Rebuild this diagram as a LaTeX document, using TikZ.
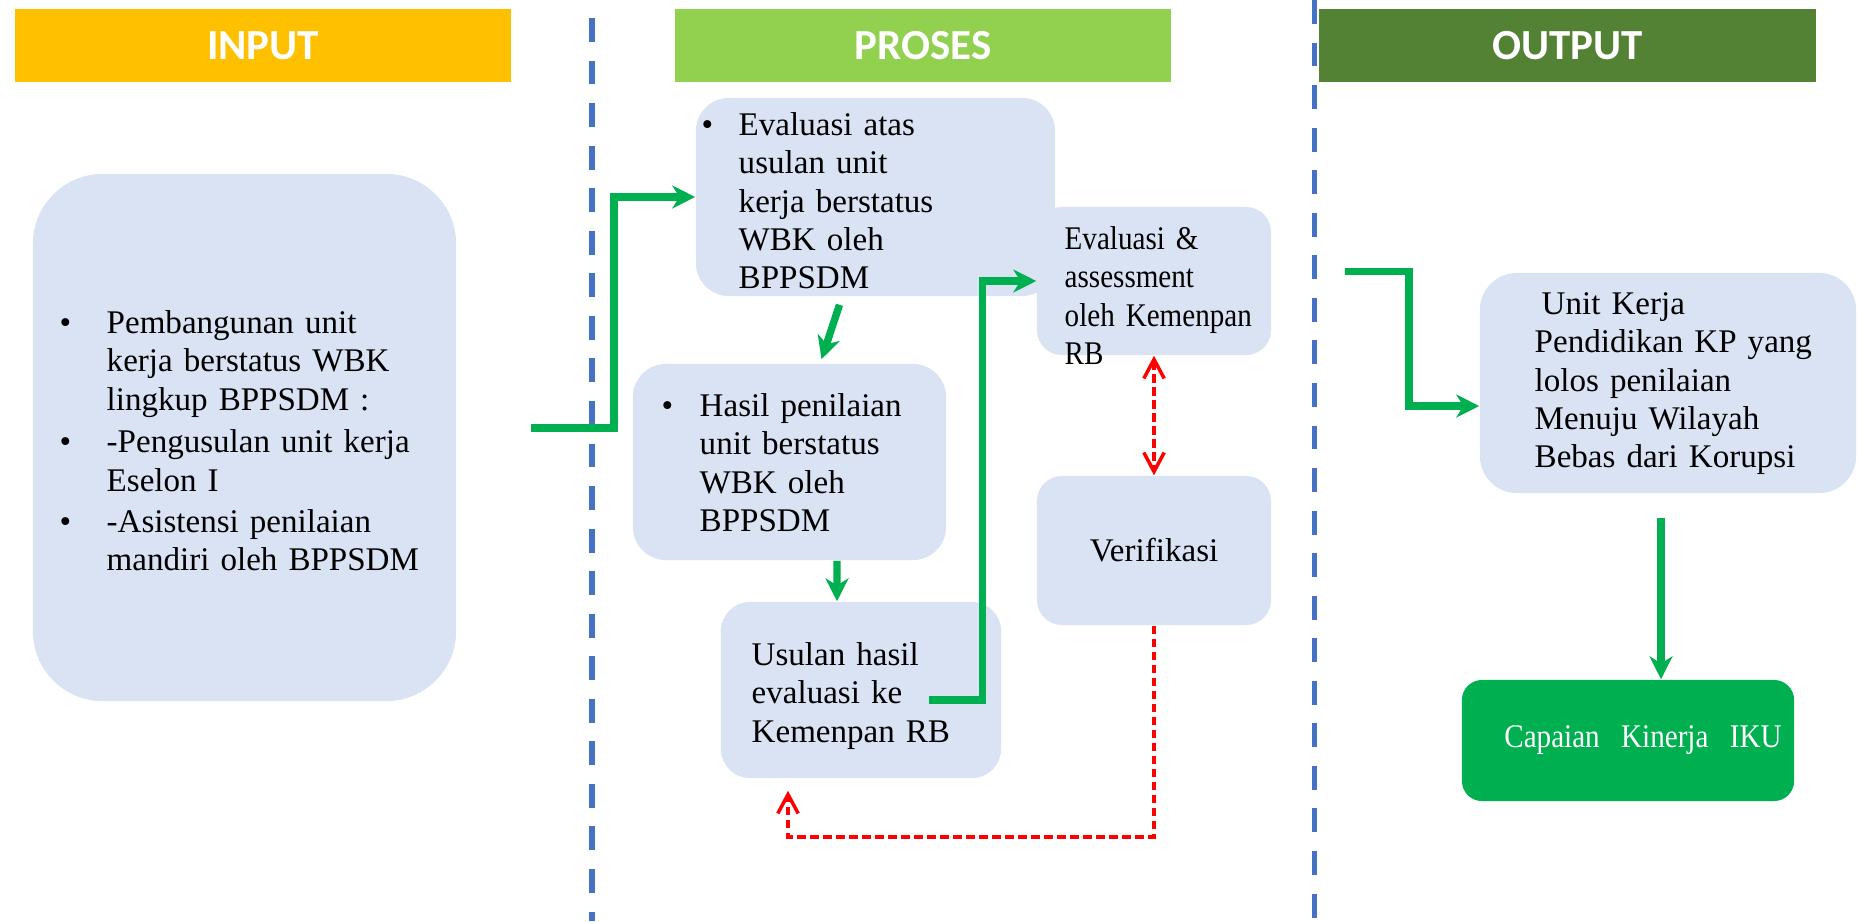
\documentclass[tikz,border=0pt]{standalone}
\usepackage{fontspec}
\setmainfont{Liberation Serif}
\newfontfamily\headfont{Carlito}
\newfontfamily\narrowfont[FakeStretch=0.88]{Liberation Serif}
\usetikzlibrary{arrows.meta}
\definecolor{inyellow}{HTML}{FFC000}
\definecolor{prolime}{HTML}{92D050}
\definecolor{outgreen}{HTML}{548235}
\definecolor{boxblue}{HTML}{DAE3F3}
\definecolor{lineblue}{HTML}{4472C4}
\definecolor{flowgreen}{HTML}{00B050}
\newcommand{\bpt}[1]{\makebox[#1][l]{\textbullet}}

\begin{document}
\begin{tikzpicture}[x=0.01cm,y=-0.01cm]
			\tikzstyle{head} = [rectangle, minimum width=4.96cm, minimum height=0.72cm, text=white, font=\headfont\bfseries\fontsize{12.2}{14}\selectfont]
			\tikzstyle{blk} = [rectangle, fill=boxblue, inner sep=0pt, font=\fontsize{9.4}{10.9}\selectfont]
			\tikzstyle{txt} = [anchor=north west, inner sep=0pt, text width=4cm, align=left, font=\fontsize{9.4}{10.9}\selectfont]
			\tikzstyle{flow} = [draw=flowgreen, line width=2.1pt, -{Stealth[length=6.5pt,width=6.5pt,inset=2pt]}]
			\tikzstyle{fb} = [draw=red, line width=1pt, dash pattern=on 2.4pt off 1.3pt]
			\tikzstyle{sep} = [draw=lineblue, line width=1.5pt, dash pattern=on 6.8pt off 5.3pt]

			\useasboundingbox (0,0) rectangle (1858,921);

			\node[head, fill=inyellow] (hin) at (263,45.5) {INPUT};
			\node[head, fill=prolime] (hpro) at (923,45.5) {PROSES};
			\node[head, fill=outgreen] (hout) at (1567.5,45.5) {OUTPUT};

			\draw[sep] (592,18) -- (592,921);
			\draw[sep] (1314.5,0) -- (1314.5,921);

			\node[blk, rounded corners=0.7cm, minimum width=4.23cm, minimum height=5.27cm] (inp) at (244.5,437.5) {};
			\node[blk, rounded corners=0.33cm, minimum width=3.59cm, minimum height=1.98cm] (evalwbk) at (875.5,197) {};
			\node[blk, rounded corners=0.33cm, minimum width=3.13cm, minimum height=1.96cm] (hasil) at (789.5,462) {};
			\node[blk, rounded corners=0.29cm, minimum width=2.80cm, minimum height=1.76cm] (usulan) at (861,690) {};
			\node[blk, rounded corners=0.25cm, minimum width=2.34cm, minimum height=1.48cm] (assess) at (1154,281) {};
			\node[blk, rounded corners=0.25cm, minimum width=2.34cm, minimum height=1.49cm] (verif) at (1154,550.5) {Verifikasi};
			\node[blk, rounded corners=0.37cm, minimum width=3.76cm, minimum height=2.20cm] (outunit) at (1668,383) {};
			\node[blk, fill=flowgreen, text=white, font=\narrowfont\fontsize{9.4}{10.9}\selectfont, rounded corners=0.2cm, minimum width=3.32cm, minimum height=1.21cm] (iku) at (1628,740.5) {\hspace*{0.3cm}Capaian\hspace{0.65em}Kinerja\hspace{0.65em}IKU};

			\node[txt] (inptxt) at (59,310) {\bpt{0.47cm}Pembangunan unit\\ \hspace*{0.47cm}kerja berstatus WBK\\ \hspace*{0.47cm}lingkup BPPSDM :\\[1.2pt] \bpt{0.47cm}-Pengusulan unit kerja\\ \hspace*{0.47cm}Eselon I\\[0.8pt] \bpt{0.47cm}-Asistensi penilaian\\ \hspace*{0.47cm}mandiri oleh BPPSDM};
			\node[txt] (evaltxt) at (701,112) {\bpt{0.37cm}Evaluasi atas\\ \hspace*{0.37cm}usulan unit\\ \hspace*{0.37cm}kerja berstatus\\ \hspace*{0.37cm}WBK oleh\\ \hspace*{0.37cm}BPPSDM};
			\node[txt] (hasiltxt) at (661,393) {\bpt{0.38cm}Hasil penilaian\\ \hspace*{0.38cm}unit berstatus\\ \hspace*{0.38cm}WBK oleh\\ \hspace*{0.38cm}BPPSDM};
			\node[txt] (usulantxt) at (751,642) {Usulan hasil\\ evaluasi ke\\ Kemenpan RB};
			\node[txt, font=\narrowfont\fontsize{9.4}{10.9}\selectfont] (assesstxt) at (1064,226) {Evaluasi \&\\ assessment\\ oleh Kemenpan\\ RB};
			\node[txt] (outtxt) at (1534,292) {\hspace*{0.07cm}Unit Kerja\\ Pendidikan KP yang\\ lolos penilaian\\ Menuju Wilayah\\ Bebas dari Korupsi};

			\coordinate (inpout) at ([shift={(74,-9.5)}]inp.east);
			\coordinate (usout) at ([shift={(-73,10)}]usulan.east);
			\coordinate (outin) at (1345,271.5);
			\coordinate (unitout) at ([shift={(-7,24)}]outunit.south);

			\draw[flow] (inpout) -- ++(83,0) |- (evalwbk.west);
			\draw[flow] ([shift={(-36,8)}]evalwbk.south) -- ([shift={(32,-4)}]hasil.north);
			\draw[flow] ([xshift=0.475cm]hasil.south) -- ([xshift=-0.24cm]usulan.north);
			\draw[flow] (usout) -- ++(54,0) |- (assess.west);
			\draw[fb, {Straight Barb[length=5.4pt,width=5.8pt]}-{Straight Barb[length=5.4pt,width=5.8pt]}] (assess.south) -- (verif.north);
			\draw[fb, -{Straight Barb[length=5.4pt,width=5.8pt]}] (verif.south) -- ++(0,211) -| ([shift={(-73,12)}]usulan.south);
			\draw[flow] (outin) -- ++(64,0) |- ([yshift=-0.23cm]outunit.west);
			\draw[flow] (unitout) -- (unitout |- iku.north);
	\end{tikzpicture}
\end{document}
